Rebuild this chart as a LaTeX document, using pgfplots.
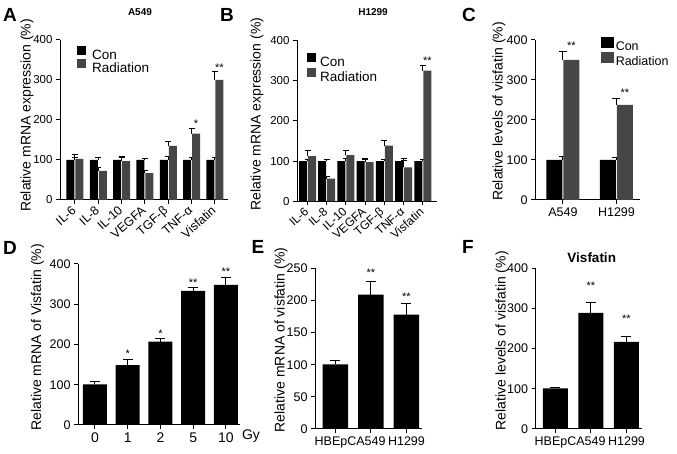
\documentclass[border=0pt]{standalone}
\usepackage{fontspec}
\setmainfont{Liberation Sans}
\usepackage{graphicx}
\usepackage{pgfplots}
\pgfplotsset{compat=1.18}
\definecolor{radgray}{RGB}{70,70,70}
\newcommand{\fs}[1]{\fontsize{#1}{#1}\selectfont}
\newcommand{\rl}[1]{\rotatebox{42}{#1}}

\pgfplotsset{
  gp/.style={
    scale only axis, anchor=south west, clip=false,
    axis lines=left, axis line style={-, line width=1pt},
    tick style={line width=1pt, black}, major tick length=4pt, tick align=outside,
    ymin=0,
    /pgf/number format/assume math mode=true,
    tick label style={font=\fs{12.5}},
    ylabel style={font=\fs{14}, anchor=center},
  },
  sq9/.style={legend image code/.code={\fill[##1] (0pt,0.3pt) rectangle (9pt,9.3pt);}},
  sq12/.style={legend image code/.code={\fill[##1] (0pt,-1.2pt) rectangle (12.5pt,9.8pt);}},
  eb/.style={error bars/.cd, y dir=plus, y explicit,
    error bar style={line width=1pt, black},
    error mark options={rotate=90, mark size=#1, line width=1pt, black}},
}
\tikzset{star/.style={font=\fs{11}, inner sep=0pt, anchor=center, yshift=-2.3pt}}

\begin{document}
\begin{tikzpicture}
\useasboundingbox (0pt,0pt) rectangle (677pt,454pt);

% ---------- A ----------
\begin{axis}[gp, at={(60pt,254pt)}, width=168pt, height=160pt,
  xmin=-0.643, xmax=6.56, ymax=400, ytick={0,100,...,400},
  yticklabel style={font=\fs{11.5}},
  xtick={0,...,6}, xticklabels={\rl{IL-6},\rl{IL-8},\rl{IL-10},\rl{VEGFA},\rl{TGF-β},\rl{TNF-α},\rl{Visfatin}},
  xticklabel style={anchor=north east, font=\fs{12.5}, inner sep=1pt, xshift=3pt},
  ylabel={Relative mRNA expression (\%)},
  ylabel style={at={(axis description cs:-0.196,0.528)}},
  title={A549}, title style={font=\bfseries\fs{10}, at={(axis description cs:0.476,1.136)}, anchor=center},
  legend style={draw=none, fill=none, at={(axis description cs:0.101,0.962)}, anchor=north west,
    inner sep=0pt, font=\fs{13.5}, legend cell align=left, nodes={inner sep=3pt}, row sep=-5pt,
    /tikz/every odd column/.append style={column sep=3pt}},
]
\addplot[ybar, bar width=8pt, bar shift=-4.5pt, fill=black, draw=none, sq9, eb=3pt]
  coordinates {(0,100)+-(0,6) (1,100)+-(0,7) (2,100)+-(0,5) (3,100)+-(0,4) (4,100)+-(0,8) (5,100)+-(0,5) (6,100)+-(0,7)};
\addlegendentry{Con}
\addplot[ybar, bar width=8pt, bar shift=4.5pt, fill=radgray, draw=none, sq9, eb=3pt]
  coordinates {(0,103)+-(0,11) (1,73)+-(0,7) (2,97)+-(0,12) (3,67)+-(0,7) (4,135)+-(0,11) (5,166)+-(0,12) (6,300)+-(0,20)};
\addlegendentry{Radiation}
\node[star, xshift=4.5pt] at (axis cs:5,195.75) {*};
\node[star, xshift=4.5pt] at (axis cs:6,335.75) {**};
\end{axis}

% ---------- B ----------
\begin{axis}[gp, at={(297pt,252.5pt)}, width=140pt, height=161pt,
  xmin=-0.547, xmax=6.74, ymax=400, ytick={0,100,...,400},
  yticklabel style={font=\fs{11.5}},
  xtick={0,...,6}, xticklabels={\rl{IL-6},\rl{IL-8},\rl{IL-10},\rl{VEGFA},\rl{TGF-β},\rl{TNF-α},\rl{Visfatin}},
  xticklabel style={anchor=north east, font=\fs{12}, inner sep=1pt, xshift=3pt},
  ylabel={Relative mRNA expression (\%)},
  ylabel style={at={(axis description cs:-0.286,0.542)}},
  title={H1299}, title style={font=\bfseries\fs{10}, at={(axis description cs:0.543,1.138)}, anchor=center},
  legend style={draw=none, fill=none, at={(axis description cs:0.071,0.924)}, anchor=north west,
    inner sep=0pt, font=\fs{13.5}, legend cell align=left, nodes={inner sep=3pt}, row sep=-3pt,
    /tikz/every odd column/.append style={column sep=1pt}},
]
\addplot[ybar, bar width=8pt, bar shift=-4.5pt, fill=black, draw=none, sq9, eb=3pt]
  coordinates {(0,100)+-(0,5) (1,100)+-(0,4) (2,100)+-(0,6) (3,100)+-(0,4) (4,100)+-(0,5) (5,100)+-(0,6) (6,100)+-(0,4)};
\addlegendentry{Con}
\addplot[ybar, bar width=8pt, bar shift=4.5pt, fill=radgray, draw=none, sq9, eb=3pt]
  coordinates {(0,113)+-(0,13) (1,57)+-(0,6) (2,115)+-(0,12) (3,98)+-(0,9) (4,139)+-(0,12) (5,85)+-(0,16) (6,325)+-(0,13)};
\addlegendentry{Radiation}
\node[star, xshift=4.5pt] at (axis cs:6,356) {**};
\end{axis}

% ---------- C ----------
\begin{axis}[gp, at={(535pt,254pt)}, width=105pt, height=160pt,
  xmin=-0.523, xmax=1.44, ymax=400, ytick={0,100,...,400},
  xtick={0,1}, xticklabels={A549,H1299},
  ylabel={Relative levels of visfatin (\%)},
  ylabel style={at={(axis description cs:-0.343,0.553)}},
  legend style={draw=none, fill=none, at={(axis description cs:0.629,1.017)}, anchor=north west,
    inner sep=0pt, font=\fs{12.5}, legend cell align=left, nodes={inner sep=2pt}, row sep=-2pt},
]
\addplot[ybar, bar width=16pt, bar shift=-8.5pt, fill=black, draw=none, sq12, eb=4pt]
  coordinates {(0,100)+-(0,8) (1,100)+-(0,5)};
\addlegendentry{Con}
\addplot[ybar, bar width=16pt, bar shift=8.5pt, fill=radgray, draw=none, sq12, eb=4pt]
  coordinates {(0,350)+-(0,20) (1,238)+-(0,16)};
\addlegendentry{Radiation}
\node[star, xshift=8.5pt] at (axis cs:0,392.5) {**};
\node[star, xshift=8.5pt] at (axis cs:1,275) {**};
\end{axis}

% ---------- D ----------
\begin{axis}[gp, at={(78pt,29pt)}, width=162pt, height=161pt,
  xmin=-0.519, xmax=4.43, ymax=400, ytick={0,100,...,400},
  xtick={0,...,4}, xticklabels={0,1,2,5,10},
  xticklabel style={font=\fs{14}},
  ylabel={Relative mRNA of Visfatin (\%)},
  ylabel style={at={(axis description cs:-0.25,0.544)}},
]
\addplot[ybar, bar width=24pt, bar shift=0pt, fill=black, draw=none, eb=5pt]
  coordinates {(0,101)+-(0,7) (1,149)+-(0,14) (2,207)+-(0,9) (3,333)+-(0,9) (4,348)+-(0,18)};
\node[star] at (axis cs:1,182) {*};
\node[star] at (axis cs:2,231.8) {*};
\node[star] at (axis cs:3,360) {**};
\node[star] at (axis cs:4,386.8) {**};
\end{axis}
\node[font=\fs{14}] at (251pt,18pt) {Gy};

% ---------- E ----------
\begin{axis}[gp, at={(315pt,25pt)}, width=107pt, height=160.7pt,
  xmin=-0.577, xmax=2.437, ymax=250, ytick={0,50,...,250},
  xtick={0,1,2}, xticklabels={HBEpC,A549,H1299},
  ylabel={Relative mRNA of visfatin (\%)},
  ylabel style={at={(axis description cs:-0.318,0.554)}},
]
\addplot[ybar, bar width=25.5pt, bar shift=0pt, fill=black, draw=none, eb=5pt]
  coordinates {(0,100.6)+-(0,5.5) (1,209)+-(0,20) (2,178)+-(0,17)};
\node[star] at (axis cs:1,246.3) {**};
\node[star] at (axis cs:2,209.5) {**};
\end{axis}

% ---------- F ----------
\begin{axis}[gp, at={(535.5pt,25pt)}, width=106.5pt, height=160.7pt,
  xmin=-0.563, xmax=2.437, ymax=400, ytick={0,100,...,400},
  xtick={0,1,2}, xticklabels={HBEpC,A549,H1299},
  ylabel={Relative levels of visfatin (\%)},
  ylabel style={at={(axis description cs:-0.315,0.549)}},
  title={Visfatin}, title style={font=\bfseries\fs{13.5}, at={(axis description cs:0.528,1.027)}, anchor=center},
]
\addplot[ybar, bar width=25pt, bar shift=0pt, fill=black, draw=none, eb=5pt]
  coordinates {(0,101)+-(0,3) (1,289)+-(0,25) (2,217)+-(0,14)};
\node[star] at (axis cs:1,362.6) {**};
\node[star] at (axis cs:2,281.2) {**};
\end{axis}

% panel letters
\node[font=\bfseries\fs{19}] at (10pt,439pt) {A};
\node[font=\bfseries\fs{19}] at (227pt,439pt) {B};
\node[font=\bfseries\fs{19}] at (469pt,439pt) {C};
\node[font=\bfseries\fs{19}] at (10pt,206pt) {D};
\node[font=\bfseries\fs{19}] at (258pt,207pt) {E};
\node[font=\bfseries\fs{19}] at (468pt,207pt) {F};
\end{tikzpicture}
\end{document}
